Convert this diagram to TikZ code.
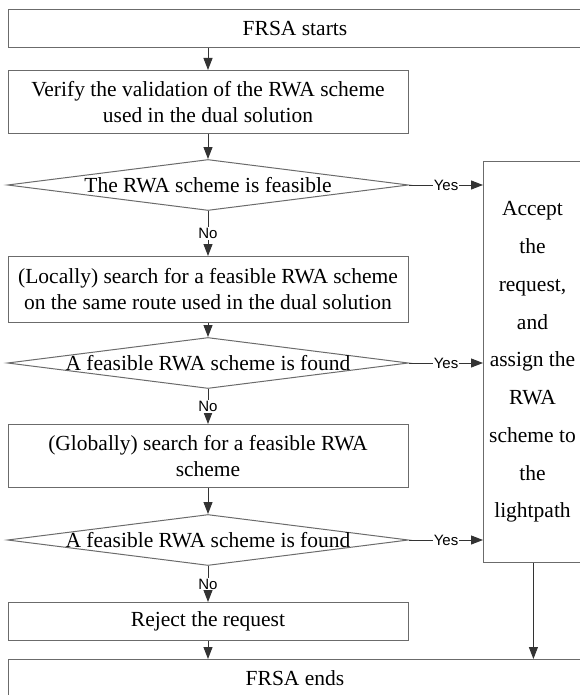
\documentclass[tikz,border=0pt]{standalone}
\usepackage{fontspec}
\setmainfont{Liberation Serif}
\setsansfont{Liberation Sans}
\usepackage{tikz}
\usetikzlibrary {arrows.meta,
                 calc,
                 positioning,
                 shapes.geometric}
\definecolor{boxgray}{gray}{0.42}
\definecolor{arrgray}{gray}{0.2}
\tikzset{
        base/.style={draw=boxgray, line width=1pt, align=center, inner sep=0pt,
                     font=\fontsize{21.5}{26}\selectfont},
        proc/.style={base, rectangle, minimum width=400pt},
        term/.style={base, rectangle, minimum width=580pt, minimum height=38pt},
        test/.style={base, diamond, minimum width=401pt, minimum height=51pt},
        accept/.style={base, rectangle, minimum width=104pt, minimum height=401pt,
                       font=\fontsize{21.5}{37.75}\selectfont},
        myarrow/.style={-{Triangle[length=12pt, width=9pt]}, draw=arrgray,
                        line width=1pt},
        yesno/.style={fill=white, inner sep=1pt,
                      font=\sffamily\fontsize{15}{17}\selectfont},
 }

\begin{document}
\begin{tikzpicture}[x=1pt, y=-1pt]
    \useasboundingbox (0,0) rectangle (580,695);
    \clip (0,0) rectangle (580,695);

    \node[term, anchor=north west] (a) at (8,9) {\hspace*{-7pt}FRSA starts};
    \node[proc, anchor=north, minimum height=63pt] (b) at (208,70)
          {Verify the validation of the RWA scheme\\ used in the dual solution};
    \node[test, below=25pt of b] (c) {\makebox[0pt]{The RWA scheme is feasible}};
    \node[proc, below=45pt of c, minimum height=66pt] (d)
          {(Locally) search for a feasible RWA scheme\\
           on the same route used in the dual solution};
    \node[test, below=14pt of d] (e) {\makebox[0pt]{A feasible RWA scheme is found}};
    \node[proc, below=35pt of e, minimum height=63pt] (f)
          {(Globally) search for a feasible RWA\\ scheme};
    \node[test, below=26pt of f] (g) {\makebox[0pt]{A feasible RWA scheme is found}};
    \node[proc, below=36pt of g, minimum height=38pt] (h) {Reject the request};
    \node[term, anchor=north west] (i) at (8,659) {\hspace*{-7pt}FRSA ends};

    \node[accept, anchor=north west] (j) at (483,161)
          {\hspace*{-6pt}Accept\\ \hspace*{-6pt}the\\ \hspace*{-6pt}request,\\
           \hspace*{-6pt}and\\ \hspace*{-6pt}assign the\\ \hspace*{-6pt}RWA\\
           \hspace*{-6pt}scheme to\\ \hspace*{-6pt}the\\ \hspace*{-6pt}lightpath};
    \coordinate (jx) at ($(j.south west)!0.48!(j.south east)$);

    \draw[myarrow] (b |- a.south) -- (b);
    \draw[myarrow] (b) -- (c);
    \draw[myarrow] (d) -- (e);
    \draw[myarrow] (f) -- (g);
    \draw[myarrow] (h) -- (h |- i.north);
    \draw[myarrow] (jx) -- (jx |- i.north);

    \draw[myarrow] (c) -- node[yesno] {No} (d);
    \draw[myarrow] (e) -- node[yesno] {No} (f);
    \draw[myarrow] (g) -- node[yesno] {No} (h);

    \draw[myarrow] (c.east) -- node[yesno] {Yes} (c.east -| j.west);
    \draw[myarrow] (e.east) -- node[yesno] {Yes} (e.east -| j.west);
    \draw[myarrow] (g.east) -- node[yesno] {Yes} (g.east -| j.west);

\end{tikzpicture}
\end{document}
